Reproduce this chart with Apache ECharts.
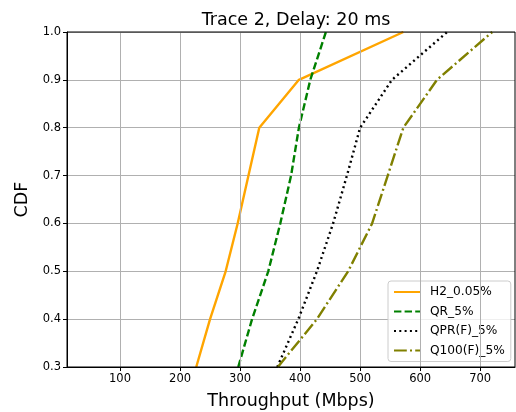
<!DOCTYPE html>
<html><head><meta charset="utf-8">
<script src="https://cdn.jsdelivr.net/npm/echarts@6/dist/echarts.min.js"></script>
<style>html,body{margin:0;padding:0;background:#fff}#c{width:516px;height:412px}</style>
</head><body><div id="c"></div>
<script>
const cdfLevels = [0.3, 0.4, 0.5, 0.6, 0.7, 0.8, 0.9, 1.0];
const h2 = [227, 250, 276, 296, 314, 332, 398, 572];
const qr = [297, 320, 347, 367, 385, 398, 417, 443];
const qpr = [362, 397, 428, 455, 478, 500, 553, 645];
const q100 = [363, 428, 480, 520, 546, 572, 628, 720];
const xTicks = [100, 200, 300, 400, 500, 600, 700];
const seriesNames = ['H2_0.05%', 'QR_5%', 'QPR(F)_5%', 'Q100(F)_5%'];
const colors = ['#FFA500', '#008000', '#000000', '#808000'];
const dashes = ['solid', [7.4, 3.2], [2, 3.3], [12.8, 3.2, 2, 3.2]];

const font = 'DejaVu Sans';
const pairs = xs => xs.map((x, i) => [x, cdfLevels[i]]);
const allData = [h2, qr, qpr, q100];

const series = allData.map((d, i) => ({
  name: seriesNames[i], type: 'line', data: pairs(d), symbol: 'none',
  lineStyle: {color: colors[i], width: 2.4, type: dashes[i], cap: 'butt'},
  itemStyle: {color: colors[i]}, z: 3 + i, animation: false
}));
series.push({
  type: 'line', data: [], silent: true, animation: false,
  markLine: {silent: true, symbol: 'none', label: {show: false},
    lineStyle: {color: '#b0b0b0', width: 1, type: 'solid'},
    data: xTicks.map(v => ({xAxis: v}))}
});

const chart = echarts.init(document.getElementById('c'));
chart.setOption({
  animation: false,
  title: {text: 'Trace 2, Delay: 20 ms', left: 291, top: 6, textAlign: 'center',
    textStyle: {fontFamily: font, fontSize: 17.5, fontWeight: 'normal', color: '#000'}},
  grid: {left: 67, right: 1, top: 32, bottom: 45, containLabel: false, outerBoundsMode: 'none'},
  xAxis: {type: 'value', min: 11.7, max: 758,
    name: 'Throughput (Mbps)', nameLocation: 'middle', nameGap: 25,
    nameTextStyle: {fontFamily: font, fontSize: 17.5, color: '#000'},
    axisLine: {show: true, lineStyle: {color: '#000', width: 1}},
    axisTick: {show: true, customValues: xTicks, length: 4, lineStyle: {color: '#000'}},
    axisLabel: {customValues: xTicks, fontFamily: font, fontSize: 11.5, color: '#000', margin: 6},
    splitLine: {show: false}},
  yAxis: {type: 'value', min: 0.3, max: 1.0, interval: 0.1,
    name: 'CDF', nameLocation: 'middle', nameGap: 36,
    nameTextStyle: {fontFamily: font, fontSize: 17.5, color: '#000'},
    axisLine: {show: true, lineStyle: {color: '#000', width: 1}},
    axisTick: {show: true, length: 4, lineStyle: {color: '#000'}},
    axisLabel: {fontFamily: font, fontSize: 11.5, color: '#000', margin: 6,
      formatter: v => v.toFixed(1)},
    splitLine: {show: true, lineStyle: {color: '#b0b0b0', width: 1}}},
  legend: {orient: 'vertical', left: 388, top: 281, data: seriesNames,
    itemWidth: 26, itemHeight: 12, itemGap: 7.5, padding: [5, 6, 5, 5],
    itemStyle: {opacity: 0},
    backgroundColor: 'rgba(255,255,255,0.8)', borderColor: '#cccccc', borderWidth: 1, borderRadius: 3,
    textStyle: {fontFamily: font, fontSize: 12.2, color: '#000', padding: [0, 0, 0, 5]}},
  graphic: [{type: 'rect', shape: {x: 67, y: 32, width: 448, height: 335},
    style: {fill: 'none', stroke: '#000', lineWidth: 1}, silent: true, z: 100}],
  series: series
});
</script></body></html>
